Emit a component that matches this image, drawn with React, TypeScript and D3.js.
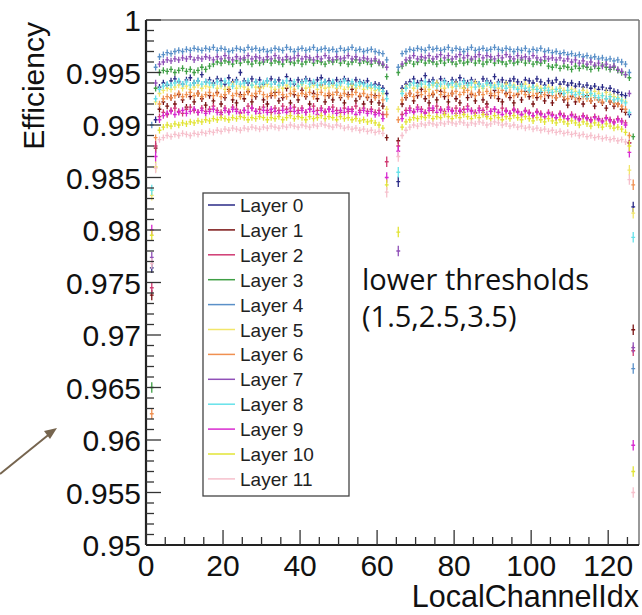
import React from 'react';
import * as d3 from 'd3';

// Efficiency per LocalChannelIdx bin (0..127), in units of 1e-4 (0 = empty bin)
const layer0 = [
  0, 9764, 9905, 9936, 9940, 9938, 9942, 9944, 9941, 9939, 9943, 9945, 9940, 9942, 9948, 9941,
  9943, 9940, 9944, 9942, 9939, 9945, 9941, 9943, 9950, 9942, 9940, 9944, 9941, 9943, 9939, 9942,
  9944, 9941, 9943, 9940, 9946, 9942, 9939, 9943, 9941, 9944, 9942, 9940, 9943, 9945, 9941, 9942,
  9940, 9943, 9941, 9944, 9942, 9939, 9943, 9941, 9940, 9942, 9938, 9939, 9938, 9935, 9930, 0,
  0, 9846, 9935, 9939, 9941, 9944, 9940, 9942, 9947, 9941, 9943, 9940, 9944, 9942, 9939, 9943,
  9941, 9945, 9942, 9940, 9943, 9941, 9939, 9944, 9942, 9940, 9946, 9941, 9943, 9940, 9942, 9944,
  9941, 9939, 9943, 9942, 9940, 9944, 9941, 9938, 9942, 9940, 9943, 9939, 9941, 9938, 9940, 9937,
  9939, 9936, 9938, 9935, 9937, 9934, 9936, 9933, 9935, 9932, 9931, 9929, 9928, 9910, 9822, 0,
];
const layer1 = [
  0, 9738, 9878, 9915, 9922, 9918, 9926, 9920, 9929, 9924, 9917, 9927, 9922, 9930, 9925, 9919,
  9928, 9923, 9931, 9920, 9926, 9934, 9924, 9921, 9929, 9925, 9932, 9922, 9927, 9936, 9924, 9920,
  9928, 9931, 9923, 9926, 9935, 9921, 9929, 9924, 9933, 9927, 9920, 9930, 9925, 9938, 9922, 9928,
  9924, 9931, 9926, 9921, 9929, 9934, 9923, 9927, 9920, 9926, 9922, 9928, 9921, 9918, 9888, 0,
  0, 9885, 9920, 9926, 9930, 9923, 9928, 9934, 9925, 9921, 9929, 9924, 9932, 9927, 9922, 9930,
  9925, 9921, 9935, 9926, 9929, 9923, 9931, 9924, 9920, 9928, 9933, 9925, 9922, 9930, 9926, 9921,
  9929, 9924, 9932, 9927, 9920, 9926, 9931, 9923, 9928, 9921, 9926, 9930, 9924, 9919, 9927, 9922,
  9925, 9920, 9928, 9923, 9918, 9924, 9921, 9916, 9922, 9918, 9920, 9915, 9912, 9883, 9705, 0,
];
const layer2 = [
  0, 9745, 9880, 9908, 9912, 9910, 9914, 9916, 9913, 9911, 9915, 9917, 9914, 9912, 9916, 9913,
  9915, 9918, 9914, 9912, 9916, 9913, 9917, 9915, 9912, 9914, 9918, 9916, 9913, 9915, 9917, 9914,
  9912, 9916, 9914, 9918, 9915, 9913, 9917, 9914, 9916, 9912, 9915, 9918, 9914, 9916, 9913, 9915,
  9917, 9914, 9912, 9916, 9913, 9915, 9918, 9914, 9916, 9913, 9915, 9912, 9914, 9910, 9865, 0,
  0, 9880, 9910, 9914, 9916, 9913, 9917, 9915, 9912, 9916, 9914, 9918, 9915, 9913, 9917, 9914,
  9916, 9913, 9915, 9918, 9914, 9912, 9916, 9914, 9917, 9913, 9915, 9912, 9916, 9914, 9911, 9915,
  9913, 9910, 9914, 9912, 9909, 9913, 9911, 9908, 9912, 9910, 9907, 9911, 9909, 9906, 9910, 9908,
  9906, 9909, 9907, 9905, 9908, 9906, 9904, 9907, 9905, 9903, 9906, 9904, 9902, 9883, 9685, 0,
];
const layer3 = [
  0, 9650, 9935, 9950, 9952, 9951, 9953, 9950, 9952, 9954, 9951, 9953, 9950, 9952, 9955, 9953,
  9956, 9958, 9960, 9959, 9961, 9960, 9958, 9961, 9959, 9962, 9960, 9958, 9961, 9959, 9960, 9962,
  9959, 9961, 9960, 9958, 9962, 9960, 9959, 9961, 9958, 9960, 9962, 9959, 9961, 9960, 9958, 9961,
  9960, 9962, 9959, 9961, 9958, 9960, 9962, 9959, 9961, 9960, 9958, 9961, 9959, 9957, 9946, 0,
  0, 9950, 9956, 9959, 9961, 9958, 9960, 9962, 9959, 9961, 9960, 9958, 9961, 9959, 9962, 9960,
  9958, 9961, 9959, 9960, 9962, 9959, 9961, 9958, 9960, 9962, 9959, 9961, 9960, 9958, 9961, 9959,
  9960, 9962, 9959, 9961, 9958, 9960, 9959, 9961, 9956, 9955, 9957, 9954, 9956, 9955, 9953, 9956,
  9954, 9956, 9955, 9953, 9956, 9954, 9957, 9955, 9953, 9955, 9952, 9950, 9948, 9945, 9889, 0,
];
const layer4 = [
  0, 9900, 9955, 9965, 9967, 9969, 9968, 9970, 9971, 9970, 9972, 9971, 9973, 9972, 9971, 9973,
  9972, 9974, 9971, 9973, 9972, 9970, 9971, 9973, 9972, 9971, 9974, 9972, 9973, 9971, 9972, 9970,
  9971, 9973, 9972, 9971, 9974, 9972, 9970, 9972, 9973, 9971, 9972, 9974, 9971, 9972, 9973, 9971,
  9972, 9970, 9973, 9971, 9972, 9974, 9971, 9972, 9970, 9971, 9972, 9970, 9969, 9968, 9962, 0,
  0, 9955, 9968, 9970, 9972, 9971, 9973, 9972, 9971, 9974, 9972, 9973, 9971, 9972, 9974, 9971,
  9973, 9972, 9970, 9972, 9974, 9971, 9972, 9973, 9971, 9972, 9974, 9972, 9971, 9973, 9972, 9970,
  9972, 9971, 9973, 9970, 9972, 9971, 9973, 9970, 9971, 9969, 9970, 9968, 9969, 9967, 9968, 9966,
  9967, 9965, 9966, 9964, 9965, 9963, 9964, 9962, 9963, 9961, 9962, 9960, 9958, 9950, 9668, 0,
];
const layer5 = [
  0, 9833, 9922, 9930, 9933, 9935, 9934, 9936, 9938, 9935, 9937, 9934, 9936, 9938, 9935, 9937,
  9936, 9938, 9935, 9937, 9934, 9936, 9939, 9935, 9937, 9936, 9934, 9938, 9936, 9935, 9937, 9939,
  9936, 9934, 9937, 9935, 9938, 9936, 9934, 9937, 9939, 9935, 9936, 9938, 9934, 9937, 9935, 9936,
  9938, 9935, 9937, 9934, 9936, 9938, 9935, 9937, 9934, 9936, 9935, 9933, 9934, 9930, 9915, 0,
  0, 9915, 9932, 9936, 9938, 9935, 9937, 9939, 9936, 9934, 9938, 9940, 9937, 9935, 9938, 9936,
  9939, 9937, 9935, 9938, 9936, 9940, 9937, 9935, 9939, 9936, 9938, 9935, 9937, 9939, 9936, 9938,
  9935, 9937, 9939, 9936, 9934, 9937, 9935, 9933, 9936, 9934, 9932, 9935, 9933, 9931, 9934, 9932,
  9930, 9933, 9931, 9929, 9932, 9930, 9928, 9931, 9929, 9927, 9926, 9924, 9922, 9857, 9816, 0,
];
const layer6 = [
  0, 9625, 9888, 9920, 9925, 9927, 9926, 9928, 9930, 9927, 9929, 9931, 9928, 9930, 9927, 9929,
  9931, 9928, 9930, 9927, 9929, 9932, 9928, 9930, 9927, 9929, 9931, 9928, 9930, 9932, 9929, 9927,
  9930, 9928, 9931, 9929, 9927, 9930, 9932, 9928, 9930, 9929, 9931, 9927, 9929, 9931, 9928, 9930,
  9929, 9931, 9928, 9930, 9927, 9929, 9931, 9928, 9930, 9927, 9929, 9926, 9928, 9924, 9910, 0,
  0, 9905, 9924, 9928, 9930, 9927, 9931, 9929, 9932, 9928, 9930, 9933, 9929, 9931, 9928, 9930,
  9932, 9929, 9931, 9933, 9930, 9928, 9931, 9929, 9932, 9930, 9928, 9931, 9933, 9929, 9931, 9928,
  9930, 9932, 9929, 9931, 9928, 9930, 9927, 9929, 9931, 9928, 9926, 9929, 9927, 9925, 9928, 9926,
  9924, 9927, 9925, 9923, 9926, 9924, 9922, 9925, 9923, 9921, 9920, 9918, 9915, 9890, 9843, 0,
];
const layer7 = [
  0, 9774, 9940, 9958, 9960, 9962, 9961, 9963, 9962, 9964, 9963, 9965, 9962, 9964, 9963, 9965,
  9964, 9962, 9965, 9963, 9966, 9964, 9962, 9965, 9963, 9964, 9966, 9963, 9965, 9964, 9962, 9965,
  9963, 9966, 9964, 9962, 9965, 9963, 9964, 9966, 9963, 9965, 9964, 9962, 9965, 9963, 9966, 9964,
  9962, 9965, 9963, 9964, 9966, 9963, 9965, 9962, 9964, 9963, 9961, 9963, 9960, 9958, 9955, 0,
  0, 9780, 9958, 9962, 9964, 9966, 9963, 9965, 9964, 9966, 9963, 9965, 9967, 9964, 9966, 9963,
  9965, 9967, 9964, 9966, 9963, 9965, 9967, 9964, 9966, 9965, 9963, 9966, 9964, 9967, 9965, 9963,
  9966, 9964, 9965, 9963, 9966, 9964, 9962, 9965, 9963, 9964, 9962, 9964, 9961, 9963, 9960, 9962,
  9959, 9961, 9958, 9960, 9957, 9959, 9956, 9958, 9955, 9956, 9953, 9951, 9948, 9930, 9688, 0,
];
const layer8 = [
  0, 9838, 9925, 9934, 9937, 9939, 9938, 9940, 9942, 9939, 9941, 9938, 9940, 9942, 9939, 9941,
  9940, 9938, 9941, 9939, 9942, 9940, 9937, 9941, 9939, 9940, 9942, 9938, 9941, 9939, 9940, 9942,
  9939, 9941, 9938, 9940, 9942, 9939, 9941, 9937, 9940, 9942, 9939, 9941, 9938, 9940, 9941, 9939,
  9941, 9938, 9940, 9942, 9939, 9941, 9938, 9940, 9939, 9937, 9938, 9936, 9935, 9932, 9925, 0,
  0, 9855, 9930, 9935, 9938, 9940, 9937, 9939, 9941, 9938, 9940, 9937, 9939, 9941, 9938, 9940,
  9937, 9939, 9941, 9938, 9940, 9936, 9939, 9937, 9940, 9938, 9936, 9939, 9937, 9935, 9938, 9936,
  9934, 9937, 9935, 9933, 9936, 9934, 9932, 9935, 9933, 9931, 9934, 9932, 9930, 9933, 9931, 9929,
  9931, 9929, 9927, 9930, 9928, 9926, 9928, 9925, 9927, 9924, 9925, 9923, 9921, 9912, 9793, 0,
];
const layer9 = [
  0, 9800, 9870, 9905, 9909, 9911, 9913, 9910, 9912, 9914, 9911, 9913, 9915, 9912, 9914, 9911,
  9913, 9915, 9912, 9910, 9914, 9912, 9915, 9913, 9911, 9914, 9912, 9916, 9913, 9911, 9914, 9912,
  9915, 9913, 9911, 9914, 9912, 9916, 9913, 9911, 9914, 9912, 9915, 9913, 9910, 9914, 9912, 9915,
  9913, 9911, 9914, 9912, 9915, 9913, 9910, 9912, 9914, 9911, 9913, 9910, 9911, 9906, 9850, 0,
  0, 9875, 9906, 9911, 9914, 9912, 9915, 9913, 9911, 9914, 9916, 9912, 9914, 9911, 9915, 9913,
  9911, 9914, 9912, 9915, 9913, 9911, 9914, 9912, 9910, 9913, 9915, 9912, 9910, 9913, 9911, 9914,
  9912, 9910, 9913, 9911, 9909, 9912, 9910, 9908, 9911, 9909, 9907, 9910, 9908, 9906, 9909, 9907,
  9905, 9908, 9906, 9904, 9907, 9905, 9903, 9906, 9904, 9902, 9905, 9903, 9900, 9874, 9595, 0,
];
const layer10 = [
  0, 9795, 9860, 9895, 9898, 9900, 9899, 9901, 9900, 9902, 9901, 9903, 9902, 9904, 9903, 9905,
  9904, 9906, 9905, 9907, 9906, 9905, 9907, 9906, 9908, 9907, 9905, 9907, 9906, 9908, 9907, 9905,
  9907, 9906, 9908, 9905, 9907, 9909, 9906, 9908, 9907, 9905, 9908, 9906, 9907, 9909, 9906, 9908,
  9907, 9905, 9908, 9906, 9907, 9905, 9906, 9904, 9905, 9903, 9904, 9902, 9900, 9897, 9843, 0,
  0, 9798, 9898, 9903, 9905, 9907, 9906, 9908, 9907, 9909, 9906, 9908, 9907, 9910, 9908, 9906,
  9909, 9907, 9910, 9908, 9906, 9909, 9907, 9910, 9908, 9906, 9909, 9907, 9905, 9908, 9906, 9909,
  9907, 9905, 9908, 9906, 9904, 9907, 9905, 9903, 9906, 9904, 9902, 9905, 9903, 9901, 9904, 9902,
  9900, 9903, 9901, 9899, 9902, 9900, 9898, 9901, 9899, 9897, 9898, 9896, 9893, 9880, 9570, 0,
];
const layer11 = [
  0, 9768, 9859, 9886, 9888, 9890, 9889, 9891, 9890, 9892, 9891, 9890, 9892, 9891, 9893, 9892,
  9894, 9893, 9895, 9894, 9896, 9895, 9897, 9896, 9895, 9897, 9896, 9898, 9897, 9896, 9898, 9897,
  9899, 9898, 9897, 9899, 9898, 9900, 9899, 9898, 9900, 9899, 9898, 9900, 9899, 9901, 9900, 9899,
  9898, 9900, 9899, 9897, 9898, 9896, 9897, 9895, 9896, 9894, 9895, 9893, 9894, 9892, 9836, 0,
  0, 9870, 9890, 9895, 9898, 9900, 9899, 9901, 9900, 9902, 9901, 9900, 9902, 9901, 9903, 9902,
  9901, 9903, 9902, 9900, 9902, 9901, 9903, 9902, 9900, 9901, 9903, 9902, 9900, 9901, 9899, 9900,
  9898, 9899, 9897, 9898, 9896, 9897, 9895, 9896, 9894, 9895, 9893, 9894, 9892, 9893, 9891, 9892,
  9890, 9891, 9889, 9890, 9888, 9889, 9887, 9888, 9886, 9887, 9885, 9886, 9884, 9848, 9550, 0,
];

const layerNames = ['Layer 0', 'Layer 1', 'Layer 2', 'Layer 3', 'Layer 4', 'Layer 5',
  'Layer 6', 'Layer 7', 'Layer 8', 'Layer 9', 'Layer 10', 'Layer 11'];
const layerColors = ['#2a2a86', '#7a1414', '#d03a72', '#3f9f45', '#5a90c8', '#f2e66a',
  '#f09050', '#9050b8', '#66e2ea', '#d82ad0', '#e2e436', '#f6c0cc'];
const layers = [layer0, layer1, layer2, layer3, layer4, layer5, layer6, layer7, layer8, layer9, layer10, layer11];

const yTickValues = [0.95, 0.955, 0.96, 0.965, 0.97, 0.975, 0.98, 0.985, 0.99, 0.995, 1];
const yTickLabels = ['0.95', '0.955', '0.96', '0.965', '0.97', '0.975', '0.98', '0.985', '0.99', '0.995', '1'];
const xTickValues = [0, 20, 40, 60, 80, 100, 120];
const xTickLabels = ['0', '20', '40', '60', '80', '100', '120'];

const xTitle = 'LocalChannelIdx';
const yTitle = 'Efficiency';
const noteLines = ['lower thresholds', '(1.5,2.5,3.5)'];

export default function App() {
  const W = 642, H = 615;
  const left = 146, right = 639, top = 20, bottom = 545;
  const x = d3.scaleLinear().domain([0, 128]).range([left, right]);
  const y = d3.scaleLinear().domain([0.95, 1]).range([bottom, top]);
  const font = '"Liberation Sans", Arial, Helvetica, sans-serif';
  const noteFont = '"Open Sans", "Noto Sans", sans-serif';

  const minorY = d3.range(0, 51).map((i) => 0.95 + i * 0.001);
  const minorX = d3.range(0, 129, 5);

  const paths = layers.map((arr) => {
    let d = '';
    arr.forEach((v, i) => {
      if (!v) return;
      const e = v / 10000;
      const err = e > 0.988 ? 0.0003 : 0.0005;
      const cy = y(e);
      d += `M${x(i)},${cy}H${x(i + 1)}`;
      d += `M${x(i + 0.5)},${y(e + err)}V${y(e - err)}`;
    });
    return d;
  });

  const legX = 203, legY = 193, legW = 146, legH = 303;
  const rowH = 24.9;

  return (
    <svg width={W} height={H} style={{ position: 'absolute', left: 0, top: 0, background: '#fff' }}
      viewBox={`0 0 ${W} ${H}`}>
      <rect x={0} y={0} width={W} height={H} fill="#fff" />
      {/* data */}
      <g>
        {paths.map((d, i) => (
          <path key={i} d={d} stroke={layerColors[i]} strokeWidth={1.3} fill="none" />
        ))}
      </g>
      {/* frame */}
      <line x1={left} x2={right} y1={top} y2={top} stroke="#777" strokeWidth={1.5} />
      <line x1={right} x2={right} y1={top} y2={bottom} stroke="#777" strokeWidth={1.5} />
      {/* y axis */}
      <line x1={left} x2={left} y1={top} y2={bottom} stroke="#222" strokeWidth={2.2} />
      {minorY.map((v, i) => (
        <line key={'ym' + i} x1={left} x2={left + (i % 5 === 0 ? 15 : 8)} y1={y(v)} y2={y(v)}
          stroke="#333" strokeWidth={1.3} />
      ))}
      {yTickValues.map((v, i) => (
        <text key={'yl' + i} x={left - 5} y={y(v) + 11} textAnchor="end" fontFamily={font}
          fontSize={30} fill="#111">{yTickLabels[i]}</text>
      ))}
      {/* x axis */}
      <line x1={left} x2={right} y1={bottom} y2={bottom} stroke="#222" strokeWidth={2.2} />
      {minorX.map((v, i) => (
        <line key={'xm' + i} x1={x(v)} x2={x(v)} y1={bottom} y2={bottom - (v % 20 === 0 ? 15 : 8)}
          stroke="#333" strokeWidth={1.3} />
      ))}
      {xTickValues.map((v, i) => (
        <text key={'xl' + i} x={x(v)} y={576} textAnchor="middle" fontFamily={font}
          fontSize={30} fill="#111">{xTickLabels[i]}</text>
      ))}
      <text x={right} y={607} textAnchor="end" fontFamily={font} fontSize={30.5} fill="#111">{xTitle}</text>
      <text transform={`translate(44,22) rotate(-90)`} textAnchor="end" fontFamily={font}
        fontSize={30} fill="#111">{yTitle}</text>
      {/* legend */}
      <rect x={legX} y={legY} width={legW} height={legH} fill="#fff" stroke="#444" strokeWidth={1.3} />
      {layerNames.map((n, i) => {
        const cy = legY + 12 + i * rowH;
        return (
          <g key={'lg' + i}>
            <line x1={legX + 5} x2={legX + 32} y1={cy} y2={cy} stroke={layerColors[i]} strokeWidth={1.5} />
            <text x={legX + 37} y={cy + 7} fontFamily={font} fontSize={19} fill="#222">{n}</text>
          </g>
        );
      })}
      {/* annotation */}
      <text x={362} y={290} fontFamily={noteFont} fontSize={29} fill="#111">{noteLines[0]}</text>
      <text x={362} y={327} fontFamily={noteFont} fontSize={29} fill="#111">{noteLines[1]}</text>
      {/* arrow */}
      <line x1={0} y1={474} x2={52} y2={432} stroke="#76654f" strokeWidth={2} />
      <path d="M57,428 L44,431 L50,439 Z" fill="#76654f" />
    </svg>
  );
}
